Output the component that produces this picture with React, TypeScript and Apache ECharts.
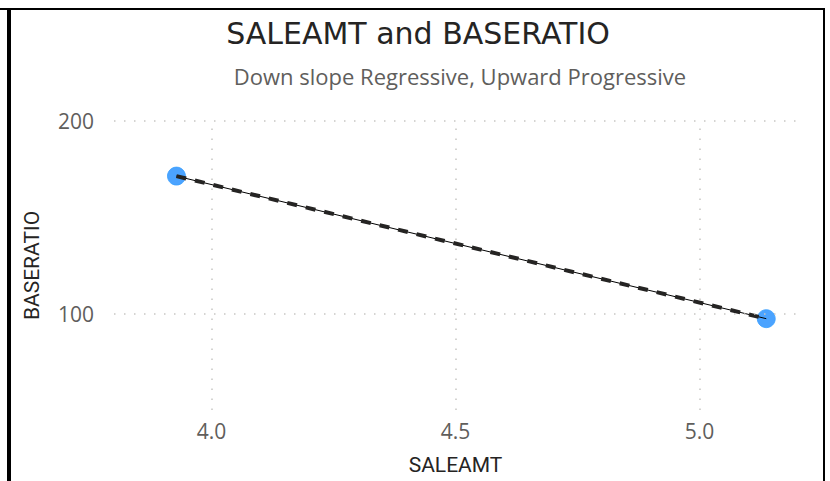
import React, { useEffect, useRef } from "react";
import * as echarts from "echarts";

const titleText = "SALEAMT and BASERATIO";
const subtitleText = "Down slope Regressive, Upward Progressive";
const xName = "SALEAMT";
const yName = "BASERATIO";

const saleAmt = [3.928, 5.137];
const baseRatio = [171.4, 97.4];

const xTicks = [4.0, 4.5, 5.0];
const yTicks = [100, 200];
const xRange = [3.8, 5.2];
const yRange = [50, 200];

const points = saleAmt.map((x, i) => [x, baseRatio[i]]);

export default function App() {
  const ref = useRef<HTMLDivElement>(null);
  useEffect(() => {
    if (!ref.current) return;
    const chart = echarts.init(ref.current, null, { renderer: "svg" });
    const gridStyle = { color: "#C8C6C4", width: 1.5, type: [1.5, 8.5] as any };
    chart.setOption({
      animation: false,
      backgroundColor: "#ffffff",
      grid: { left: 114, right: 33, top: 121, bottom: 71, containLabel: false },
      xAxis: {
        type: "value",
        min: xRange[0],
        max: xRange[1],
        name: xName,
        nameLocation: "middle",
        nameGap: 44,
        nameTextStyle: { fontFamily: "Roboto", fontSize: 21, color: "#252423" },
        axisLine: { show: false },
        axisTick: { show: false },
        splitLine: { show: false },
        axisLabel: {
          customValues: xTicks,
          formatter: (v: number) => v.toFixed(1),
          fontFamily: "Open Sans",
          fontSize: 21,
          color: "#605E5C",
          margin: 10,
        },
      },
      yAxis: {
        type: "value",
        min: yRange[0],
        max: yRange[1],
        name: yName,
        nameLocation: "middle",
        nameGap: 72,
        nameRotate: 90,
        nameTextStyle: { fontFamily: "Roboto", fontSize: 21, color: "#252423" },
        axisLine: { show: false },
        axisTick: { show: false },
        splitLine: { show: false },
        axisLabel: {
          customValues: yTicks,
          formatter: (v: number) => String(v),
          fontFamily: "Open Sans",
          fontSize: 21,
          color: "#605E5C",
          margin: 20,
        },
      },
      graphic: [
        { type: "rect", shape: { x: 0, y: 8, width: 825, height: 2 }, style: { fill: "#000" }, z: 100 },
        { type: "rect", shape: { x: 7, y: 8, width: 4, height: 473 }, style: { fill: "#000" }, z: 100 },
        { type: "rect", shape: { x: 823, y: 8, width: 2, height: 473 }, style: { fill: "#000" }, z: 100 },
        {
          type: "text",
          x: 418,
          y: 33,
          style: {
            text: titleText,
            fontFamily: "DejaVu Sans",
            fontSize: 30,
            fill: "#252423",
            align: "center",
            verticalAlign: "middle",
          },
        },
        {
          type: "text",
          x: 460,
          y: 76,
          style: {
            text: subtitleText,
            fontFamily: "Open Sans",
            fontSize: 22,
            fill: "#605E5C",
            align: "center",
            verticalAlign: "middle",
          },
        },
      ],
      series: [
        {
          type: "scatter",
          data: points,
          symbolSize: 18,
          itemStyle: { color: "#1E8CFF", borderColor: "#3AA0FF", borderWidth: 1 },
          z: 2,
          markLine: {
            silent: true,
            symbol: ["none", "none"],
            label: { show: false },
            lineStyle: gridStyle,
            data: [
              ...xTicks.map((v) => ({ xAxis: v })),
              ...yTicks.map((v) => ({ yAxis: v })),
            ],
          },
        },
        {
          type: "line",
          data: points,
          symbol: "none",
          lineStyle: { color: "#000000", width: 1 },
          z: 3,
        },
        {
          type: "line",
          data: points,
          symbol: "none",
          lineStyle: { color: "#252423", width: 4, type: [10, 9] },
          z: 4,
        },
      ],
    });
    return () => chart.dispose();
  }, []);
  return (
    <div
      ref={ref}
      style={{ position: "absolute", left: 0, top: 0, width: 830, height: 481 }}
    />
  );
}
